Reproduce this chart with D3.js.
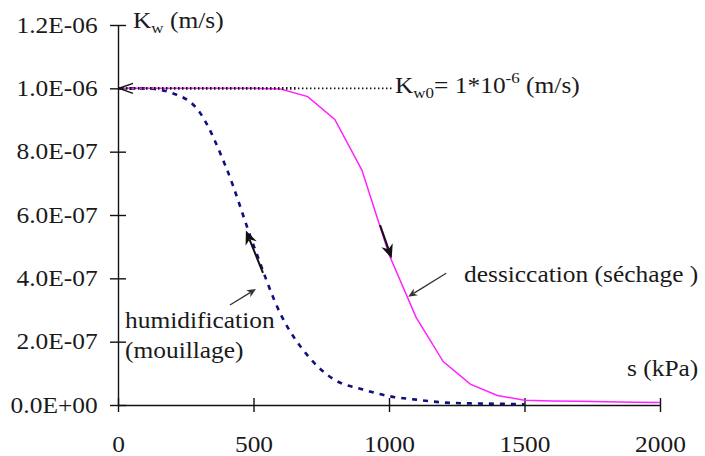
<!DOCTYPE html>
<html>
<head>
<meta charset="utf-8">
<script src="https://cdn.jsdelivr.net/npm/d3@7"></script>
<style>
    body { margin: 0; background: #fff; }
    svg text { font-family: "Liberation Serif", "Times New Roman", serif; font-size: 22.5px; fill: #1a1a1a; }
</style>
</head>
<body>
<svg id="chart" width="705" height="456"></svg>
<script>
// dessiccation (séchage) branch: suction s (kPa) -> Kw (m/s)
const suctionDry = [0, 100, 200, 300, 400, 500, 600, 700, 800, 900, 1000,
                    1100, 1200, 1300, 1400, 1500, 1600, 1700, 1800, 1900, 2000];
const kwDry = [1.0e-6, 1.0e-6, 1.0e-6, 1.0e-6, 1.0e-6, 1.0e-6, 0.998e-6, 0.974e-6, 0.902e-6, 0.742e-6, 0.475e-6,
               0.277e-6, 0.137e-6, 0.066e-6, 0.030e-6, 0.015e-6, 0.013e-6, 0.012e-6, 0.010e-6, 0.009e-6, 0.008e-6];

// humidification (mouillage) branch
const suctionWet = [0, 100, 200, 300, 400, 500, 600, 700, 800, 900, 1000, 1100, 1200, 1300, 1400, 1500];
const kwWet = [1.0e-6, 1.0e-6, 0.985e-6, 0.926e-6, 0.748e-6, 0.505e-6, 0.287e-6, 0.156e-6, 0.079e-6,
               0.050e-6, 0.028e-6, 0.017e-6, 0.008e-6, 0.005e-6, 0.004e-6, 0.002e-6];

const xTicks = [0, 500, 1000, 1500, 2000];
const yTicks = [0, 2e-7, 4e-7, 6e-7, 8e-7, 1.0e-6, 1.2e-6];
const kw0 = 1e-6;

const SX = 1.13; // the reference text is a bit wide, stretch it horizontally

const svg = d3.select("#chart");

const x = d3.scaleLinear().domain([0, 2000]).range([118, 660]);
const y = d3.scaleLinear().domain([0, 1.2e-6]).range([405, 25]);

// 1.2E-06 style labels
function fmtE(d) {
    let s = d.toExponential(1).toUpperCase();
    return s.replace(/E([+-])(\d)$/, "E$10$2");
}

// axes
const yAxis = svg.append("g")
    .attr("transform", `translate(${x(0)},0)`)
    .call(d3.axisLeft(y).tickValues(yTicks).tickSizeInner(8).tickSizeOuter(0).tickPadding(10).tickFormat(fmtE));
yAxis.selectAll(".tick line").attr("x1", 8);
yAxis.selectAll(".tick text").attr("transform", `scale(${SX},1)`);

const xAxis = svg.append("g")
    .attr("transform", `translate(0,${y(0)})`)
    .call(d3.axisBottom(x).tickValues(xTicks).tickSizeInner(7).tickSizeOuter(0).tickPadding(24).tickFormat(d3.format("d")));
xAxis.selectAll(".tick line").attr("y1", -7);
xAxis.selectAll(".tick text").attr("transform", `scale(${SX},1)`);

svg.selectAll(".domain, .tick line").attr("stroke", "#111").attr("stroke-width", 1.4);

// curves
const wetLine = d3.line().x(d => x(d[0])).y(d => y(d[1])).curve(d3.curveMonotoneX);
const dryLine = d3.line().x(d => x(d[0])).y(d => y(d[1]));

svg.append("path")
    .datum(d3.zip(suctionWet, kwWet))
    .attr("d", wetLine)
    .attr("fill", "none")
    .attr("stroke", "#10107a")
    .attr("stroke-width", 2.6)
    .attr("stroke-dasharray", "5,6");

svg.append("path")
    .datum(d3.zip(suctionDry, kwDry))
    .attr("d", dryLine)
    .attr("fill", "none")
    .attr("stroke", "#ff22ff")
    .attr("stroke-width", 1.5);

// Kw0 reference (dotted), heavier where it sits on the curves
svg.append("line")
    .attr("x1", x(0)).attr("x2", x(664))
    .attr("y1", y(kw0)).attr("y2", y(kw0))
    .attr("stroke", "#111").attr("stroke-width", 2.6)
    .attr("stroke-dasharray", "1.5,2.5");
svg.append("line")
    .attr("x1", x(664)).attr("x2", x(1012))
    .attr("y1", y(kw0)).attr("y2", y(kw0))
    .attr("stroke", "#111").attr("stroke-width", 1.6)
    .attr("stroke-dasharray", "1.5,2.5");
svg.append("path")
    .attr("d", `M${x(0) + 15},${y(kw0) - 5}L${x(0) + 1},${y(kw0)}L${x(0) + 15},${y(kw0) + 5}`)
    .attr("fill", "none").attr("stroke", "#111").attr("stroke-width", 1.5);

// arrows: from [s, kw] to [s, kw]
function arrow(from, to, len, half, width, color) {
    let x1 = x(from[0]), y1 = y(from[1]), x2 = x(to[0]), y2 = y(to[1]);
    let dx = x2 - x1, dy = y2 - y1, L = Math.hypot(dx, dy);
    let ux = dx / L, uy = dy / L, nx = -uy, ny = ux;
    let bx = x2 - ux * len, by = y2 - uy * len;
    let notchX = x2 - ux * len * 0.7, notchY = y2 - uy * len * 0.7;
    svg.append("line")
        .attr("x1", x1).attr("y1", y1).attr("x2", notchX).attr("y2", notchY)
        .attr("stroke", color).attr("stroke-width", width);
    svg.append("path")
        .attr("d", `M${x2},${y2}L${bx + nx * half},${by + ny * half}L${notchX},${notchY}L${bx - nx * half},${by - ny * half}Z`)
        .attr("fill", color);
}

arrow([535, 0.417e-6], [472, 0.551e-6], 14, 6, 2, "#111");
arrow([967, 0.568e-6], [1010, 0.463e-6], 14, 6, 2, "#111");
arrow([413, 0.316e-6], [509, 0.366e-6], 9, 4, 1.3, "#333");
arrow([1211, 0.416e-6], [1071, 0.342e-6], 9, 4, 1.3, "#333");

// text labels
function label(px, py, parts) {
    let t = svg.append("text").attr("transform", `translate(${px},${py}) scale(${SX},1)`);
    parts.forEach(p => {
        let ts = t.append("tspan").text(p.t);
        if (p.dy) ts.attr("dy", p.dy);
        if (p.size) ts.style("font-size", p.size + "px");
    });
    return t;
}

label(133, 28, [{t: "K"}, {t: "w", dy: 5, size: 15}, {t: " (m/s)", dy: -5}]);
label(395, 93, [{t: "K"}, {t: "w0", dy: 5, size: 15}, {t: "= 1*10", dy: -5},
                {t: "-6", dy: -10, size: 15}, {t: " (m/s)", dy: 10}]);
label(627, 376, [{t: "s (kPa)"}]);
label(464, 282, [{t: "dessiccation (séchage )"}]);
label(125, 328, [{t: "humidification"}]);
label(125, 358, [{t: "(mouillage)"}]);
</script>
</body>
</html>
